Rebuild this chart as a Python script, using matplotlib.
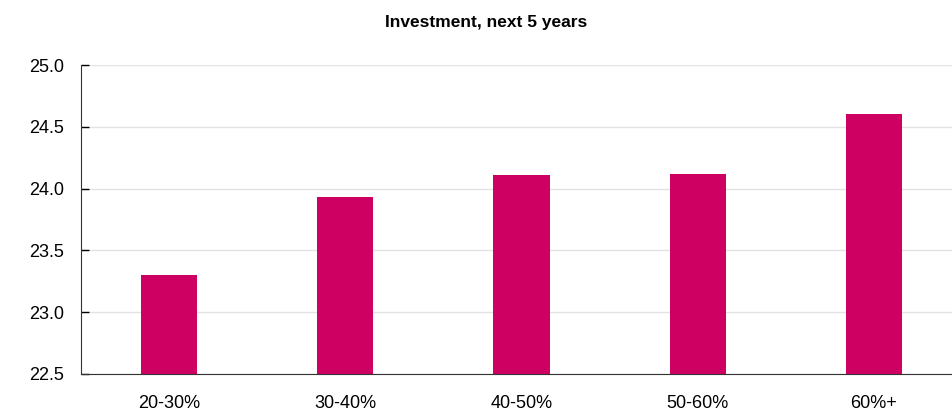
import matplotlib
matplotlib.use("Agg")
import matplotlib.pyplot as plt
import numpy as np

plt.rcParams['font.family'] = ['Liberation Sans Narrow', 'Liberation Sans', 'DejaVu Sans']

# share of something, grouped
categories = ['20-30%', '30-40%', '40-50%', '50-60%', '60%+']
investment = [23.30, 23.93, 24.11, 24.12, 24.60]
yticks = [22.5, 23.0, 23.5, 24.0, 24.5, 25.0]

fig = plt.figure(figsize=(9.52, 4.12), dpi=100)
ax = fig.add_axes([81 / 952, 1 - 374 / 412, 881 / 952, 309 / 412])

x = np.arange(len(categories))
ax.bar(x, investment, width=0.32, color='#CE0062', zorder=3)

ax.set_xlim(-0.5, len(categories) - 0.5)
ax.set_ylim(22.5, 25.0)
ax.set_yticks(yticks)
ax.set_yticklabels([f'{v:.1f}' for v in yticks], fontsize=13)
ax.set_xticks(x)
ax.set_xticklabels(categories, fontsize=13)
ax.tick_params(axis='y', direction='in', length=6, width=1, pad=12)
ax.tick_params(axis='x', length=0, pad=15)

ax.grid(axis='y', color='#e3e3e3', linewidth=1, zorder=0)
for s in ['top', 'right']:
    ax.spines[s].set_visible(False)
ax.spines['left'].set_color('#333333')
ax.spines['bottom'].set_color('#333333')

fig.text(486 / 952, 1 - 22 / 412, 'Investment, next 5 years', ha='center', va='center',
         fontsize=12.5, fontweight='bold')

fig.savefig('out.png', dpi=100)
